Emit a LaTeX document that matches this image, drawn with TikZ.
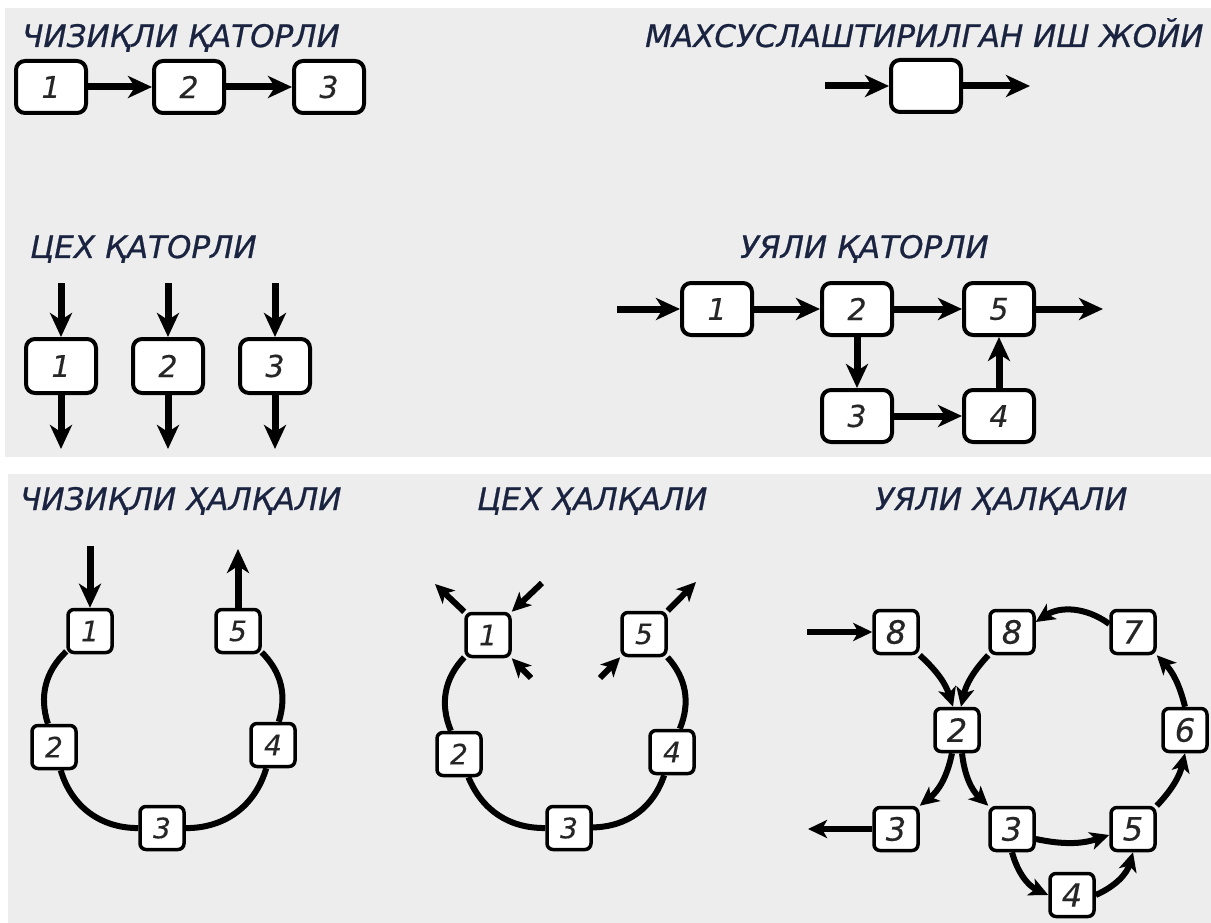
\documentclass[tikz,border=0pt]{standalone}
\usepackage{fontspec}
\setmainfont{DejaVu Sans}
\newfontfamily\ttlfont{DejaVu Sans}[FakeBold=0.8]
\newfontfamily\numfont{DejaVu Sans}[FakeBold=0.4]
\usetikzlibrary{arrows.meta}
\definecolor{bg}{HTML}{EDEDED}
\definecolor{ttlc}{HTML}{1A2440}
\definecolor{numc}{HTML}{262626}
\begin{document}
\begin{tikzpicture}[x=1pt,y=-1pt,
 ttl/.style={anchor=base west, inner sep=0, text=ttlc, font=\ttlfont\itshape\fontsize{31}{34}\selectfont},
 sbox/.style={draw, line width=4pt, rounded corners=9pt, fill=white, minimum width=70pt, minimum height=52pt, inner sep=0, text=numc, font=\numfont\itshape\fontsize{30}{32}\selectfont},
 rbox/.style={draw, line width=3.5pt, rounded corners=6pt, fill=white, minimum width=44pt, minimum height=43pt, inner sep=0, text=numc, font=\numfont\itshape\fontsize{28}{30}\selectfont},
 gbox/.style={rbox, font=\numfont\itshape\fontsize{32}{34}\selectfont},
 arr/.style={line width=7pt, -{Stealth[length=24pt,width=22pt,inset=7pt]}},
 ring/.style={line width=6pt},
 garr/.style={line width=6pt, -{Stealth[length=19pt,width=18pt,inset=5pt]}},
]
\fill[white] (0,0) rectangle (1211,923);
\fill[bg] (5,8) rectangle (1211,457);
\fill[bg] (8,474) rectangle (1211,923);
\useasboundingbox (0,0) rectangle (1211,923);

% Panel A
\node[ttl] (tA) at (22,47) {ЧИЗИҚЛИ ҚАТОРЛИ};
\node[sbox] (a1) at (51,87) {1};
\node[sbox] (a2) at (189,87) {2};
\node[sbox] (a3) at (329,87) {3};
\draw[arr] (a1) -- (a2);
\draw[arr] (a2) -- (a3);

% Panel B
\node[ttl] (tB) at (645,47) {МАХСУСЛАШТИРИЛГАН ИШ ЖОЙИ};
\node[sbox] (b) at (926,86) {};
\coordinate (bin) at (825,86);
\coordinate (bout) at (1030,86);
\draw[arr] (bin) -- (b);
\draw[arr] (b) -- (bout);

% Panel C
\node[ttl] (tC) at (30,258) {ЦЕХ ҚАТОРЛИ};
\foreach \i/\x in {1/61,2/168,3/275}{
  \node[sbox, minimum height=54pt] (c\i) at (\x,366) {\i};
  \coordinate (ci\i) at (\x,283);
  \coordinate (co\i) at (\x,449);
  \draw[arr] (ci\i) -- (c\i);
  \draw[arr] (c\i) -- (co\i);
}

% Panel D
\node[ttl] (tD) at (740,258) {УЯЛИ ҚАТОРЛИ};
\node[sbox] (d1) at (717,309) {1};
\node[sbox] (d2) at (857,309) {2};
\node[sbox] (d5) at (999,309) {5};
\node[sbox] (d3) at (857,416) {3};
\node[sbox] (d4) at (999,416) {4};
\coordinate (din) at (617,309);
\coordinate (dout) at (1103,309);
\draw[arr] (din) -- (d1);
\draw[arr] (d1) -- (d2);
\draw[arr] (d2) -- (d5);
\draw[arr] (d5) -- (dout);
\draw[arr] (d2) -- (d3);
\draw[arr] (d3) -- (d4);
\draw[arr] (d4) -- (d5);

% Panel E
\node[ttl] (tE) at (20,510) {ЧИЗИҚЛИ ҲАЛҚАЛИ};
\node[rbox] (e1) at (90,631) {1};
\node[rbox] (e2) at (54,747) {2};
\node[rbox] (e3) at (162,828) {3};
\node[rbox] (e4) at (273,745) {4};
\node[rbox] (e5) at (238,631) {5};
\draw[ring] (e1) to[bend right=32] (e2);
\draw[ring] (e2) to[bend right=37] (e3);
\draw[ring] (e3) to[bend right=37] (e4);
\draw[ring] (e4) to[bend right=31] (e5);
\coordinate (ein) at (90,546);
\coordinate (eout) at (238,549);
\draw[arr] (ein) -- (e1);
\draw[arr] (e5) -- (eout);

% Panel F
\node[ttl] (tF) at (477,510) {ЦЕХ ҲАЛҚАЛИ};
\node[rbox] (f1) at (488,635) {1};
\node[rbox] (f2) at (459,754) {2};
\node[rbox] (f3) at (569,828) {3};
\node[rbox] (f4) at (672,752) {4};
\node[rbox] (f5) at (644,634) {5};
\draw[ring] (f1) to[bend right=33] (f2);
\draw[ring] (f2) to[bend right=34] (f3);
\draw[ring] (f3) to[bend right=35] (f4);
\draw[ring] (f4) to[bend right=32] (f5);
\coordinate (fnw) at (435,584);
\coordinate (fne) at (542,583);
\coordinate (fse) at (531,678);
\coordinate (fsw) at (600,678);
\coordinate (fo) at (696,582);
\draw[garr] (f1.north west) -- (fnw);
\draw[garr] (fne) -- (f1.north east);
\draw[garr] (fse) -- (f1.south east);
\draw[garr] (fsw) -- (f5.south west);
\draw[garr] (f5.north east) -- (fo);

% Panel G
\node[ttl] (tG) at (875,510) {УЯЛИ ҲАЛҚАЛИ};
\node[gbox] (g8a) at (896,632) {8};
\node[gbox] (g8b) at (1012,632) {8};
\node[gbox] (g7) at (1133,632) {7};
\node[gbox] (g2) at (957,730) {2};
\node[gbox] (g6) at (1185,730) {6};
\node[gbox] (g3a) at (896,829) {3};
\node[gbox] (g3b) at (1012,829) {3};
\node[gbox] (g5) at (1133,829) {5};
\node[gbox] (g4) at (1072,895) {4};
\coordinate (gin) at (807,632);
\coordinate (gout) at (808,829);
\draw[garr] (gin) -- (g8a);
\draw[garr] (g3a) -- (gout);
\draw[garr] (g8a.south east) to[bend left=15] ([xshift=-4pt]g2.north);
\draw[garr] (g8b.south west) to[bend right=15] ([xshift=4pt]g2.north);
\draw[garr] ([xshift=-5pt]g2.south) to[bend left=20] (g3a.north east);
\draw[garr] ([xshift=5pt]g2.south) to[bend right=20] (g3b.north west);
\draw[garr] ([yshift=-10pt]g3b.east) to[bend right=15] ([yshift=-6pt]g5.west);
\draw[garr] (g3b.south) to[bend right=25] (g4.west);
\draw[garr] (g4.east) to[bend right=25] (g5.south);
\draw[garr] (g5.north east) to[bend right=15] (g6.south);
\draw[garr] (g6.north) to[bend right=15] (g7.south east);
\draw[garr] ([yshift=8pt]g7.west) to[bend right=35] ([yshift=10pt]g8b.east);
\end{tikzpicture}
\end{document}
